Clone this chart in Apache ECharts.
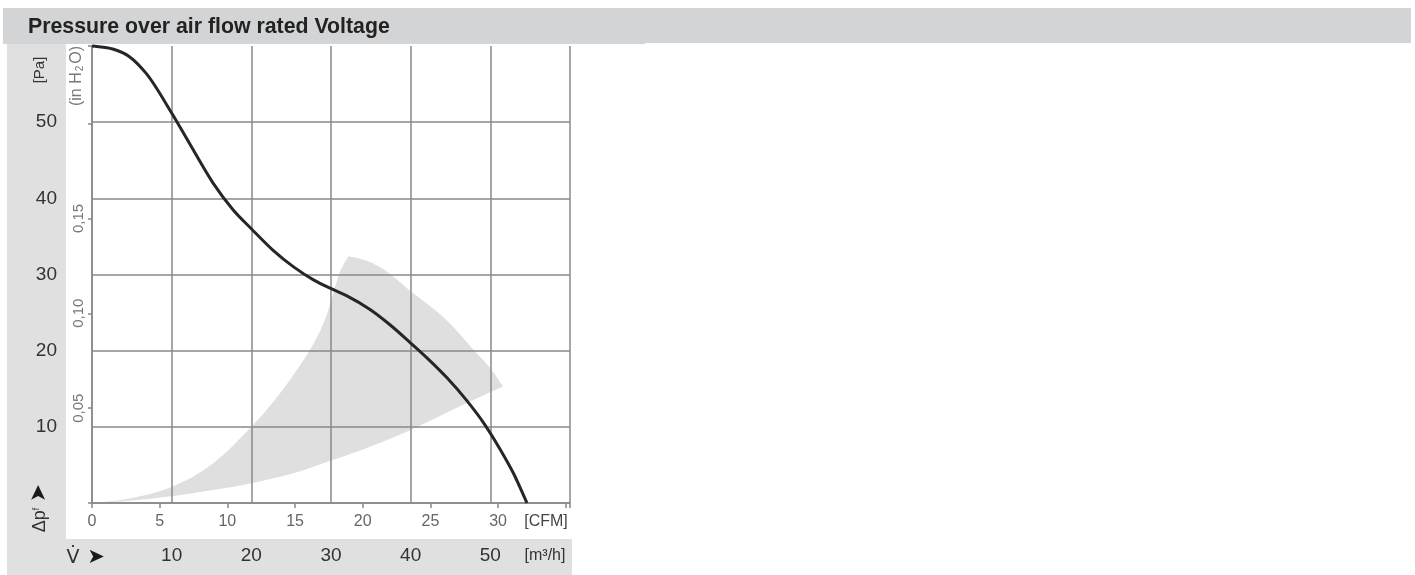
<!DOCTYPE html>
<html>
<head>
<meta charset="utf-8">
<script src="https://cdn.jsdelivr.net/npm/echarts@6/dist/echarts.min.js"></script>
<style>
  html, body { margin: 0; padding: 0; background: #fff; }
  #chart { width: 1415px; height: 575px; }
</style>
</head>
<body>
<div id="chart"></div>
<script>
// fan curve, air flow in m3/h, pressure in Pa
var curveFlow = [0, 2.6, 4.7, 6.8, 10, 12.3, 15.2, 17.7, 20, 22.7, 25.3, 27.8, 30.1, 32, 34.9, 37.4, 40, 42.4, 44.5, 47, 49.3, 51.2, 52.9, 54.6];
var curvePressure = [60, 59.6, 58.6, 56.4, 51.2, 47.1, 42.0, 38.5, 36.0, 33.2, 31.0, 29.3, 28.1, 27.2, 25.4, 23.4, 21.0, 18.7, 16.5, 13.5, 10.3, 7.1, 3.9, 0];

// gray operating band, three edges: upper-left, outer arc, lower
var bandUpperFlow = [0, 4.7, 10, 15.2, 20, 23.6, 27.3, 29.4, 31, 32.2];
var bandUpperPressure = [0, 0.6, 2.1, 5.2, 10, 14.4, 20, 24.5, 30, 32.4];
var bandArcFlow = [32.2, 34.5, 37, 40, 42.5, 44.9, 48, 50, 51.6];
var bandArcPressure = [32.4, 31.8, 30.4, 27.8, 25.8, 23.6, 20, 17.7, 15.3];
var bandLowerFlow = [51.6, 46.6, 40, 34.9, 30.1, 25.3, 20, 15.2, 10, 4.7, 0];
var bandLowerPressure = [15.3, 12.9, 9.6, 7.4, 5.6, 3.9, 2.6, 1.7, 0.9, 0.3, 0];

var flowLabels = [10, 20, 30, 40, 50];
var cfmLabels = [0, 5, 10, 15, 20, 25, 30];
var paLabels = [10, 20, 30, 40, 50];
var inchLabels = [0.05, 0.10, 0.15];

var CFM_MAX = 60 / 1.699;
var IN_MAX = 60 / 249.09;
var gridColor = '#888';
var font = 'Liberation Sans, Arial, sans-serif';

var chart = echarts.init(document.getElementById('chart'));

function hasLabel(list, v) {
  for (var i = 0; i < list.length; i++) {
    if (Math.abs(list[i] - v) < 1e-6) return true;
  }
  return false;
}

// catmull-rom segments through pixel points, as svg path commands
function splinePath(pts, start) {
  var d = start ? 'M' + pts[0][0] + ',' + pts[0][1] : '';
  for (var i = 0; i < pts.length - 1; i++) {
    var p0 = pts[Math.max(i - 1, 0)];
    var p1 = pts[i];
    var p2 = pts[i + 1];
    var p3 = pts[Math.min(i + 2, pts.length - 1)];
    var c1x = p1[0] + (p2[0] - p0[0]) / 6;
    var c1y = p1[1] + (p2[1] - p0[1]) / 6;
    var c2x = p2[0] - (p3[0] - p1[0]) / 6;
    var c2y = p2[1] - (p3[1] - p1[1]) / 6;
    d += 'C' + c1x + ',' + c1y + ' ' + c2x + ',' + c2y + ' ' + p2[0] + ',' + p2[1];
  }
  return d;
}

// cubic hermite in x for the fan curve (points sorted by x)
function hermitePath(pts) {
  var n = pts.length;
  var h = [], s = [], m = [];
  for (var i = 0; i < n - 1; i++) {
    h[i] = pts[i + 1][0] - pts[i][0];
    s[i] = (pts[i + 1][1] - pts[i][1]) / h[i];
  }
  m[0] = s[0];
  m[n - 1] = s[n - 2];
  for (var j = 1; j < n - 1; j++) {
    m[j] = (h[j] * s[j - 1] + h[j - 1] * s[j]) / (h[j - 1] + h[j]);
  }
  var d = 'M' + pts[0][0] + ',' + pts[0][1];
  for (var k = 0; k < n - 1; k++) {
    var dx = h[k] / 3;
    d += 'C' + (pts[k][0] + dx) + ',' + (pts[k][1] + m[k] * dx) + ' '
      + (pts[k + 1][0] - dx) + ',' + (pts[k + 1][1] - m[k + 1] * dx) + ' '
      + pts[k + 1][0] + ',' + pts[k + 1][1];
  }
  return d;
}

function toPx(api, flow, pres) {
  return flow.map(function (q, i) { return api.coord([q, pres[i]]); });
}

var option = {
  animation: false,
  backgroundColor: '#fff',
  grid: { left: 92, right: 845, top: 46, bottom: 72 },
  graphic: [
    { type: 'rect', shape: { x: 3, y: 8, width: 642, height: 36 }, style: { fill: '#d3d4d5' }, silent: true },
    { type: 'rect', shape: { x: 645, y: 8, width: 766, height: 35 }, style: { fill: '#d3d4d5' }, silent: true },
    { type: 'rect', shape: { x: 7, y: 44, width: 59, height: 531 }, style: { fill: '#e0e0e0' }, silent: true },
    { type: 'rect', shape: { x: 66, y: 539, width: 506, height: 36 }, style: { fill: '#e0e0e0' }, silent: true },
    {
      type: 'text', x: 28, y: 27, silent: true,
      style: { text: 'Pressure over air flow rated Voltage', font: 'bold 21.3px ' + font, fill: '#222', verticalAlign: 'middle' }
    },
    {
      type: 'text', x: 40, y: 70, rotation: Math.PI / 2, silent: true,
      style: { text: '[Pa]', font: '15px ' + font, fill: '#333', align: 'center', verticalAlign: 'middle' }
    },
    {
      type: 'text', x: 77, y: 76, rotation: Math.PI / 2, silent: true,
      style: {
        text: '(in H{s|2}O)', font: '16px ' + font, fill: '#777', align: 'center', verticalAlign: 'middle',
        rich: { s: { fontSize: 10, fill: '#777', padding: [7, 2, 0, 1] } }
      }
    },
    {
      type: 'text', x: 39, y: 493, rotation: Math.PI / 2, silent: true,
      style: { text: '\u27A4', font: '22px DejaVu Sans', fill: '#1a1a1a', align: 'center', verticalAlign: 'middle' }
    },
    {
      type: 'text', x: 40, y: 520, rotation: Math.PI / 2, silent: true,
      style: {
        text: '\u0394p{s|f}', font: '18px ' + font, fill: '#333', align: 'center', verticalAlign: 'middle',
        rich: { s: { fontSize: 9, fill: '#333', padding: [0, 0, 6, 0] } }
      }
    },
    {
      type: 'text', x: 73, y: 558, silent: true,
      style: { text: 'V\u0307', font: '19px DejaVu Sans', fill: '#333', align: 'center', verticalAlign: 'middle' }
    },
    {
      type: 'text', x: 96, y: 558, silent: true,
      style: { text: '\u27A4', font: '21px DejaVu Sans', fill: '#1a1a1a', align: 'center', verticalAlign: 'middle' }
    },
    {
      type: 'text', x: 546, y: 522, silent: true,
      style: { text: '[CFM]', font: '16px ' + font, fill: '#444', align: 'center', verticalAlign: 'middle' }
    },
    {
      type: 'text', x: 545, y: 556, silent: true,
      style: { text: '[m\u00B3/h]', font: '16px ' + font, fill: '#333', align: 'center', verticalAlign: 'middle' }
    }
  ],
  xAxis: [
    {
      type: 'value', min: 0, max: 60, interval: 10, position: 'bottom',
      axisLine: { show: true, lineStyle: { color: gridColor, width: 1.5 } },
      axisTick: { show: false },
      splitLine: { show: true, lineStyle: { color: gridColor, width: 1.5 } },
      axisLabel: {
        margin: 43, fontSize: 19, color: '#333', fontFamily: font,
        formatter: function (v) { return hasLabel(flowLabels, v) ? String(v) : ''; }
      }
    },
    {
      type: 'value', min: 0, max: CFM_MAX, interval: 5, position: 'bottom',
      axisLine: { show: false },
      axisTick: { show: true, length: 5, lineStyle: { color: gridColor, width: 1.5 } },
      splitLine: { show: false },
      axisLabel: {
        margin: 11, fontSize: 16, color: '#666', fontFamily: font,
        formatter: function (v) { return hasLabel(cfmLabels, v) ? String(v) : ''; }
      }
    }
  ],
  yAxis: [
    {
      type: 'value', min: 0, max: 60, interval: 10, position: 'left',
      axisLine: { show: false },
      axisTick: { show: false },
      splitLine: { show: true, showMaxLine: false, lineStyle: { color: gridColor, width: 1.5 } },
      axisLabel: {
        margin: 35, fontSize: 19, color: '#333', fontFamily: font,
        formatter: function (v) { return hasLabel(paLabels, v) ? String(v) : ''; }
      }
    },
    {
      type: 'value', min: 0, max: IN_MAX, interval: 0.05, position: 'left',
      axisLine: { show: true, lineStyle: { color: gridColor, width: 1.5 } },
      axisTick: { show: true, length: 4, lineStyle: { color: gridColor, width: 1.5 } },
      splitLine: { show: false },
      axisLabel: {
        margin: 6, rotate: 90, fontSize: 15, color: '#777', fontFamily: font,
        formatter: function (v) { return hasLabel(inchLabels, v) ? v.toFixed(2).replace('.', ',') : ''; }
      }
    }
  ],
  series: [
    {
      type: 'custom',
      xAxisIndex: 0, yAxisIndex: 0,
      z: -1,
      silent: true,
      data: [[0, 0]],
      renderItem: function (params, api) {
        var d = splinePath(toPx(api, bandUpperFlow, bandUpperPressure), true)
          + splinePath(toPx(api, bandArcFlow, bandArcPressure), false)
          + splinePath(toPx(api, bandLowerFlow, bandLowerPressure), false) + 'Z';
        return { type: 'path', shape: { pathData: d }, style: { fill: '#dfdfdf' } };
      }
    },
    {
      type: 'custom',
      xAxisIndex: 0, yAxisIndex: 0,
      z: 3,
      silent: true,
      clip: false,
      data: [[0, 0]],
      renderItem: function (params, api) {
        var d = hermitePath(toPx(api, curveFlow, curvePressure));
        return {
          type: 'path', shape: { pathData: d },
          style: { fill: 'none', stroke: '#262626', lineWidth: 3, lineJoin: 'round' }
        };
      }
    }
  ]
};

chart.setOption(option);
</script>
</body>
</html>
